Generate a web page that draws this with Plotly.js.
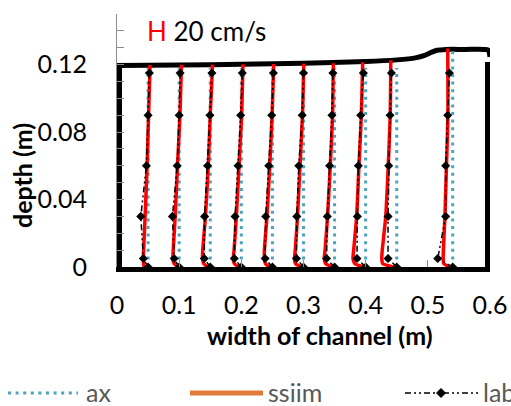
<!DOCTYPE html>
<html>
<head>
<meta charset="utf-8">
<script src="https://cdn.plot.ly/plotly-3.0.1.min.js"></script>
<style>
  html, body { margin: 0; padding: 0; background: #fff; }
  #chart { width: 511px; height: 406px; }
</style>
</head>
<body>
<div id="chart"></div>
<script>
// ---------------- data ----------------
const stations = [0.05, 0.1, 0.15, 0.2, 0.25, 0.3, 0.35, 0.4, 0.45, 0.54];

// "ax" profiles: vertical lines from the bed to this depth
const axTop = [0.118, 0.118, 0.118, 0.118, 0.118, 0.118, 0.118, 0.118, 0.118, 0.128];

// "ssiim" profiles: depths and x-offsets (m) from each station
const ssiimDepth = [0, 0.002, 0.005, 0.01, 0.03, 0.06, 0.09];
const ssiimTop = [0.1198, 0.1199, 0.12, 0.1202, 0.1204, 0.1206, 0.1208, 0.1214, 0.1226, 0.1295];
const ssiimDx = [
  [-0.0064, -0.0072, -0.0076, -0.0072, -0.0048, -0.0016, 0.0008, 0.0032],
  [0, -0.0080, -0.0101, -0.0096, -0.0064, -0.0027, 0.0013, 0.0037],
  [-0.0043, -0.0105, -0.0124, -0.0121, -0.0077, -0.0032, 0, 0.0037],
  [-0.0037, -0.0113, -0.0129, -0.0117, -0.0080, -0.0037, 0.0005, 0.0027],
  [-0.0048, -0.0113, -0.0129, -0.0129, -0.0088, -0.0043, -0.0005, 0.0021],
  [-0.0037, -0.0129, -0.0145, -0.0133, -0.0096, -0.0056, -0.0016, 0.0005],
  [-0.0032, -0.0145, -0.0166, -0.0153, -0.0113, -0.0069, -0.0032, -0.0021],
  [-0.0027, -0.0177, -0.0204, -0.0193, -0.0145, -0.0108, -0.0069, -0.0048],
  [-0.0053, -0.0225, -0.0241, -0.0233, -0.0177, -0.0137, -0.0105, -0.0096],
  [-0.0040, -0.0145, -0.0153, -0.0150, -0.0125, -0.0100, -0.0077, -0.0080]
];

// "lab" measurements: depths and x-offsets (m) from each station
const labDepth = [0, 0.005, 0.03, 0.06, 0.09, 0.115];
const labDx = [
  [0, -0.0076, -0.0117, -0.0027, 0, 0.0021],
  [0, -0.0080, -0.0108, -0.0032, 0, 0.0016],
  [0, -0.0096, -0.0091, -0.0043, -0.0005, 0.0027],
  [0, -0.0113, -0.0101, -0.0053, -0.0011, 0.0016],
  [0, -0.0117, -0.0108, -0.0059, -0.0011, 0.0016],
  [0, -0.0113, -0.0108, -0.0076, -0.0021, 0],
  [0, -0.0129, -0.0117, -0.0080, -0.0043, -0.0027],
  [0, -0.0140, -0.0133, -0.0117, -0.0080, -0.0037],
  [0, -0.0140, -0.0140, -0.0129, -0.0108, -0.0086],
  [0, -0.0241, -0.0113, -0.0113, -0.0080, -0.0053]
];

// water surface
const surfX = [0, 0.1, 0.2, 0.3, 0.4, 0.45, 0.48, 0.495, 0.505, 0.515, 0.53, 0.56, 0.59, 0.597, 0.6];
const surfY = [0.1195, 0.1198, 0.1202, 0.1208, 0.1218, 0.1228, 0.124, 0.1255, 0.1272, 0.1285, 0.129, 0.129, 0.129, 0.1286, 0.1245];

// channel walls (left wall, right wall)
const wallX = [0, 0, null, 0.6, 0.6];
const wallY = [0.1195, 0, null, 0, 0.1215];

const xTicks = [0, 0.1, 0.2, 0.3, 0.4, 0.5, 0.6];
const xTickText = ['0', '0.1', '0.2', '0.3', '0.4', '0.5', '0.6'];
const yTicks = [0, 0.04, 0.08, 0.12];
const yTickText = ['0', '0.04', '0.08', '0.12'];

const seriesNames = ['ax', 'ssiim', 'lab'];

// ---------------- styling ----------------
const FONT = 'Lato, Carlito, Calibri, "Open Sans", sans-serif';
const RED = '#FF0000';
const TEAL = '#4BA3BC';
const ORANGE = '#E07B39';
const GREY = '#8C8C8C';

const traces = [];
traces.push({
  x: wallX, y: wallY, mode: 'lines', connectgaps: false,
  line: {color: '#000', width: 10}, hoverinfo: 'skip', showlegend: false
});
traces.push({
  x: surfX, y: surfY, mode: 'lines',
  line: {color: '#000', width: 5, shape: 'spline', smoothing: 0.8},
  hoverinfo: 'skip', showlegend: false
});
stations.forEach((s, i) => {
  traces.push({
    x: [s, s], y: [0, axTop[i]], mode: 'lines', name: seriesNames[0],
    line: {color: TEAL, width: 3, dash: '3px,4.6px'},
    hoverinfo: 'skip', showlegend: false
  });
});
stations.forEach((s, i) => {
  const ys = ssiimDepth.concat([ssiimTop[i]]);
  traces.push({
    x: ssiimDx[i].map(d => s + d), y: ys, mode: 'lines', name: seriesNames[1],
    line: {color: RED, width: 3.5, shape: 'spline', smoothing: 0.5},
    hoverinfo: 'skip', showlegend: false
  });
});
stations.forEach((s, i) => {
  traces.push({
    x: labDx[i].map(d => s + d), y: labDepth, mode: 'lines+markers', name: seriesNames[2],
    line: {color: '#000', width: 1.5, dash: '6px,3px,2px,3px,2px,3px'},
    marker: {symbol: 'diamond', size: 7, color: '#000'},
    cliponaxis: false, hoverinfo: 'skip', showlegend: false
  });
});

// pixel helpers for paper-coordinate placement of legend / labels
const L = 117, R = 21, T = 14, B = 139, W = 511, H = 406;
const pw = W - L - R, ph = H - T - B;
const px = x => (x - L) / pw;
const py = y => (H - B - y) / ph;

const legY = py(393);
function diamondPath(cx, cy) {
  const dx = 4.5 / pw, dy = 4.5 / ph;
  return `M${cx - dx},${cy} L${cx},${cy + dy} L${cx + dx},${cy} L${cx},${cy - dy} Z`;
}

const shapes = [
  {type: 'line', xref: 'paper', yref: 'paper', x0: px(8), x1: px(78), y0: legY, y1: legY,
   line: {color: TEAL, width: 3, dash: '3px,4.6px'}},
  {type: 'line', xref: 'paper', yref: 'paper', x0: px(190), x1: px(263), y0: legY, y1: legY,
   line: {color: ORANGE, width: 5}},
  {type: 'line', xref: 'paper', yref: 'paper', x0: px(405), x1: px(478), y0: legY, y1: legY,
   line: {color: '#000', width: 1.5, dash: '6px,3px,2px,3px,2px,3px'}},
  {type: 'path', xref: 'paper', yref: 'paper', path: diamondPath(px(441), legY),
   fillcolor: '#000', line: {color: '#000', width: 1}}
];

const annotations = [
  {xref: 'paper', yref: 'paper', x: px(145), y: py(31), xanchor: 'left', yanchor: 'middle',
   text: '<span style="color:#FF0000">H</span> 20 cm/s', showarrow: false,
   font: {family: FONT, size: 26, color: '#000'}},
  {xref: 'paper', yref: 'paper', x: px(320), y: py(335), xanchor: 'center', yanchor: 'middle',
   text: '<b>width of channel (m)</b>', showarrow: false,
   font: {family: FONT, size: 25, color: '#000'}},
  {xref: 'paper', yref: 'paper', x: px(22), y: py(176), xanchor: 'center', yanchor: 'middle',
   text: '<b>depth (m)</b>', textangle: -90, showarrow: false,
   font: {family: FONT, size: 25, color: '#000'}},
  {xref: 'paper', yref: 'paper', x: px(84), y: py(392), xanchor: 'left', yanchor: 'middle',
   text: seriesNames[0], showarrow: false, font: {family: FONT, size: 25, color: '#595959'}},
  {xref: 'paper', yref: 'paper', x: px(266), y: py(392), xanchor: 'left', yanchor: 'middle',
   text: seriesNames[1], showarrow: false, font: {family: FONT, size: 25, color: '#595959'}},
  {xref: 'paper', yref: 'paper', x: px(481), y: py(392), xanchor: 'left', yanchor: 'middle',
   text: seriesNames[2], showarrow: false, font: {family: FONT, size: 25, color: '#595959'}}
];

const layout = {
  width: W, height: H,
  margin: {l: L, r: R, t: T, b: B, pad: 0},
  paper_bgcolor: '#fff', plot_bgcolor: '#fff',
  font: {family: FONT, size: 25, color: '#000'},
  showlegend: false,
  xaxis: {
    range: [0, 0.6], tickmode: 'array', tickvals: xTicks, ticktext: xTickText,
    ticks: 'inside', ticklen: 7, tickwidth: 1, tickcolor: GREY,
    showline: true, linecolor: '#000', linewidth: 5,
    showgrid: false, zeroline: false, fixedrange: true,
    tickfont: {family: FONT, size: 25, color: '#000'}, ticklabelstandoff: 12
  },
  yaxis: {
    range: [0, 0.15], tickmode: 'array', tickvals: yTicks, ticktext: yTickText,
    ticks: 'inside', ticklen: 7, tickwidth: 1, tickcolor: GREY,
    minor: {dtick: 0.01, tick0: 0, ticks: 'inside', ticklen: 7, tickcolor: GREY, tickwidth: 1, showgrid: false},
    showline: true, linecolor: GREY, linewidth: 1,
    showgrid: false, zeroline: false, fixedrange: true,
    tickfont: {family: FONT, size: 25, color: '#000'}, ticklabelstandoff: 24
  },
  shapes: shapes,
  annotations: annotations
};

Plotly.newPlot('chart', traces, layout, {displayModeBar: false, staticPlot: true});
</script>
</body>
</html>
